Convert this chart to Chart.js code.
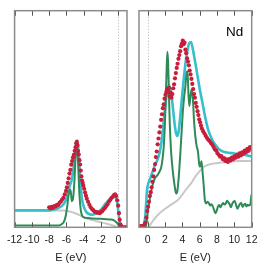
<!DOCTYPE html>
<html>
<head>
<meta charset="utf-8">
<script src="https://cdn.jsdelivr.net/npm/chart.js@4"></script>
<style>
  html, body { margin: 0; padding: 0; background: #fff; }
  #wrap { position: relative; width: 266px; height: 266px; }
  canvas { position: absolute; top: 0; }
  #chart-left { left: 0; }
  #chart-right { left: 133px; }
</style>
</head>
<body>
<div id="wrap">
  <canvas id="chart-left" width="133" height="266"></canvas>
  <canvas id="chart-right" width="133" height="266"></canvas>
</div>
<script>
// tick labels
const leftTicks = [-12, -10, -8, -6, -4, -2, 0];
const rightTicks = [0, 2, 4, 6, 8, 10, 12];

// left panel (occupied), [E, intensity]
const leftCyan = [[-12,7.8],[-8,7.8],[-7.5,8.2],[-7,8.8],[-6.5,10],[-6.2,11.5],[-6,13.2],[-5.8,16.5],[-5.6,19.5],[-5.45,21],[-5.3,24],[-5.15,29],[-5.0,34.5],[-4.85,39],[-4.75,40],[-4.65,37],[-4.5,28],[-4.35,19],[-4.2,13],[-4.0,9.5],[-3.7,7],[-3.3,6],[-3.0,5.8],[-2.5,6.5],[-2.0,8.2],[-1.5,10.8],[-1.0,13],[-0.6,14.2],[-0.3,13.6],[-0.1,10.5],[0.1,4],[0.3,1],[0.5,0],[1,0]];
const leftGreen = [[-12,0.8],[-7,0.8],[-6.6,1.3],[-6.3,2.5],[-6.1,5],[-5.9,10],[-5.75,15],[-5.6,17.5],[-5.5,16.5],[-5.38,12],[-5.25,13],[-5.1,20],[-4.95,32],[-4.85,38],[-4.75,37],[-4.62,26],[-4.5,15],[-4.35,8],[-4.2,5.5],[-4.0,4.6],[-3.5,4.3],[-3,4.1],[-2,3.9],[-1,3.6],[-0.5,3.2],[-0.2,2.2],[0,1.2],[0.2,0.3],[0.5,0],[1,0]];
const leftGray = [[-12,7.8],[-6.5,7.8],[-6,7.6],[-5.5,7.2],[-5,6.5],[-4.5,5.6],[-4,4.6],[-3.5,3.9],[-3,3.3],[-2.5,2.8],[-2,2.3],[-1.5,1.8],[-1,1.3],[-0.5,0.7],[0,0.15],[0.3,0],[1,0]];
const leftExp = [[-8.0,9.2],[-7.85,8.7],[-7.7,9.4],[-7.55,9.0],[-7.4,9.8],[-7.25,9.6],[-7.1,10.4],[-6.95,10.3],[-6.8,11.3],[-6.65,11.9],[-6.5,12.8],[-6.35,13.6],[-6.2,15.2],[-6.05,16.8],[-5.95,18.5],[-5.85,20.5],[-5.75,22.6],[-5.65,24.8],[-5.55,26.5],[-5.45,28.9],[-5.35,30.6],[-5.25,32.2],[-5.15,33.4],[-5.05,35.3],[-4.95,37],[-4.87,38.8],[-4.8,39.4],[-4.73,37.8],[-4.66,35.2],[-4.58,33.6],[-4.5,31],[-4.42,29],[-4.35,26.2],[-4.27,23.5],[-4.2,21.6],[-4.12,20.4],[-4.05,19.2],[-3.95,17.8],[-3.85,16.1],[-3.75,14.6],[-3.65,13.2],[-3.5,11.8],[-3.35,10.4],[-3.2,9.2],[-3.05,8.4],[-2.9,7.9],[-2.75,7.2],[-2.6,7.1],[-2.45,6.7],[-2.3,6.9],[-2.15,6.5],[-2.0,7.1],[-1.85,7.5],[-1.7,8.3],[-1.55,8.9],[-1.4,9.8],[-1.25,10.6],[-1.1,11.8],[-0.95,12.6],[-0.8,13.5],[-0.65,14.1],[-0.5,14.9],[-0.38,15.2],[-0.25,14.4],[-0.12,12.5],[-0.02,10],[0.07,6.5],[0.15,3.5],[0.25,1.3],[0.35,0.4],[0.5,0],[0.65,0],[0.8,0],[0.95,0]];

// right panel (unoccupied)
const rightCyan = [[-1,0],[-0.6,0.3],[-0.4,1.5],[-0.28,5],[-0.18,11],[-0.08,17],[0.1,20.5],[0.3,22.6],[0.7,27.2],[1.0,30],[1.3,33.2],[1.5,37],[1.7,43],[1.9,51],[2.1,58.5],[2.3,64],[2.5,65.4],[2.7,62.2],[2.9,55.5],[3.1,48],[3.3,43],[3.45,42.2],[3.6,45],[3.8,53],[4.0,62],[4.2,70],[4.4,77],[4.6,82],[4.8,85],[5.0,85.5],[5.2,82.5],[5.4,78],[5.6,73.5],[5.8,68.7],[6.0,64],[6.2,59.9],[6.6,51.6],[7.0,44.7],[7.5,40],[8.0,37],[8.5,35.3],[9,34.6],[10,34.1],[11,33.6],[12,32.7]];
const rightGreen = [[-1,0],[-0.3,0],[-0.12,2],[0,6.9],[0.2,12],[0.4,16.5],[0.6,20],[0.8,22.3],[1.0,23.5],[1.2,24.5],[1.4,26],[1.55,27.5],[1.7,31],[1.85,37],[1.97,46],[2.08,58],[2.18,72],[2.27,81],[2.36,76],[2.45,62],[2.55,48],[2.67,37],[2.8,30],[2.95,24],[3.1,19.5],[3.25,16],[3.35,15.6],[3.45,17.5],[3.6,24],[3.75,33],[3.9,43],[4.05,53],[4.2,60],[4.35,65],[4.5,71.5],[4.6,72],[4.7,62],[4.8,56],[4.92,60],[5.05,63.5],[5.15,62],[5.25,57],[5.35,49],[5.5,42],[5.65,37.5],[5.8,35],[5.95,29],[6.05,28],[6.2,30.5],[6.3,27],[6.45,20],[6.6,12.5],[6.75,11],[6.9,11.8],[7.05,11.2],[7.2,10.1],[7.35,10.6],[7.5,9.8],[7.65,8.2],[7.8,6.5],[7.95,7.5],[8.1,9.5],[8.25,10.3],[8.4,9.2],[8.55,10.4],[8.7,11.2],[8.85,10.5],[9.0,10.9],[9.15,12.2],[9.3,11.5],[9.45,10.6],[9.6,9.3],[9.75,10.8],[9.9,11.8],[10.05,12.1],[10.2,10.3],[10.35,8.6],[10.5,9.7],[10.65,10.8],[10.8,11.2],[10.95,9.4],[11.1,10.3],[11.25,10.9],[11.4,9.6],[11.55,10.4],[11.7,10.1],[11.85,10.6],[11.95,14.5],[12,15]];
const rightGray = [[-1,0],[0,0],[0.1,0.2],[0.6,3],[1.2,5.8],[1.6,7.3],[2.1,8.8],[2.7,10.5],[3.3,12],[3.7,13.6],[4.1,15.7],[4.5,17.8],[5.0,20.3],[5.4,22.8],[5.8,25],[6.2,26.8],[6.6,28.2],[7.3,29.2],[7.9,29.6],[9,30.2],[9.8,30.5],[11,30.6],[12,30.7]];
const rightExp = [[-1,0.4],[-0.85,0.5],[-0.7,0.4],[-0.55,0.6],[-0.4,1.0],[-0.28,2.2],[-0.15,4.5],[-0.05,7.5],[0.05,9.5],[0.15,11.8],[0.25,14.4],[0.35,16.2],[0.45,18.5],[0.55,21],[0.65,23.5],[0.75,26.5],[0.85,29.2],[0.95,32.4],[1.05,35],[1.15,38.3],[1.25,41],[1.35,43.8],[1.45,46.5],[1.55,49.6],[1.65,52.2],[1.75,55],[1.85,56.8],[1.95,59.4],[2.05,61.2],[2.15,62.5],[2.25,63.8],[2.35,62.6],[2.45,64.3],[2.55,60.5],[2.65,62.2],[2.75,59.8],[2.85,61.5],[2.95,64.2],[3.05,66],[3.15,68.8],[3.25,71.2],[3.35,73.6],[3.45,75.5],[3.55,77.8],[3.65,79.5],[3.75,81.3],[3.85,83.6],[3.95,84.8],[4.05,86.2],[4.15,84.5],[4.25,85.3],[4.35,82],[4.45,80.4],[4.55,78],[4.65,76.5],[4.75,74.8],[4.85,72.4],[4.95,70.6],[5.05,68.5],[5.15,66.2],[5.25,63.8],[5.35,61.5],[5.45,59.8],[5.55,57.4],[5.65,55.6],[5.75,53.6],[5.85,51.8],[5.95,49.8],[6.05,48.5],[6.15,46.9],[6.25,45.6],[6.4,44.4],[6.55,43.3],[6.7,42.2],[6.85,41.2],[7.0,40.4],[7.15,39.8],[7.3,38.9],[7.45,38.2],[7.6,37.1],[7.75,36],[7.9,35.4],[8.05,34.2],[8.2,33.5],[8.35,32.6],[8.5,32.9],[8.65,31.5],[8.8,31.9],[8.95,30.6],[9.1,31.4],[9.25,30.2],[9.4,31.5],[9.55,30.8],[9.7,32.2],[9.85,31.4],[10.0,32.8],[10.15,32.1],[10.3,33.4],[10.45,32.6],[10.6,34.1],[10.75,33.2],[10.9,34.6],[11.05,34],[11.2,35.4],[11.35,34.7],[11.5,36.2],[11.65,35.3],[11.8,37],[11.95,36.4]];

const COLORS = { exp: '#c81e3a', green: '#2e8b57', cyan: '#36bfcd', gray: '#c8c8c8', frame: '#8c8c8c', tick: '#555', text: '#222' };
const FONT = 'Liberation Sans';

// frame, inside ticks, dotted E=0 line, element label
const framePlugin = {
  id: 'frame',
  beforeDatasetsDraw(chart) {
    const { ctx, chartArea: a, scales: { x } } = chart;
    const x0 = Math.round(x.getPixelForValue(0)) + 0.5;
    ctx.save();
    ctx.strokeStyle = '#b0b0b0';
    ctx.lineWidth = 1;
    ctx.setLineDash([1, 2]);
    ctx.beginPath(); ctx.moveTo(x0, a.top); ctx.lineTo(x0, a.bottom); ctx.stroke();
    ctx.restore();
  },
  afterDraw(chart, args, opts) {
    const { ctx, chartArea: a, scales: { x } } = chart;
    ctx.save();
    ctx.strokeStyle = COLORS.tick;
    ctx.lineWidth = 1;
    x.ticks.forEach(t => {
      const px = Math.round(x.getPixelForValue(t.value)) + 0.5;
      ctx.beginPath();
      ctx.moveTo(px, a.top); ctx.lineTo(px, a.top + 5);
      ctx.moveTo(px, a.bottom); ctx.lineTo(px, a.bottom - 5);
      ctx.stroke();
    });
    ctx.strokeStyle = COLORS.frame;
    ctx.lineWidth = 1.5;
    ctx.strokeRect(a.left, a.top, a.right - a.left, a.bottom - a.top);
    if (opts.label) {
      ctx.fillStyle = '#000';
      ctx.font = `13.5px "${FONT}"`;
      ctx.textAlign = 'right';
      ctx.textBaseline = 'alphabetic';
      ctx.fillText(opts.label, a.right - 8.5, a.top + 25.5);
    }
    ctx.restore();
  }
};

const toXY = pts => pts.map(([x, y]) => ({ x, y }));
const lineSet = (pts, color, width) => ({
  data: toXY(pts), borderColor: color, borderWidth: width,
  pointRadius: 0, fill: false, cubicInterpolationMode: 'monotone'
});
const dotSet = pts => ({
  data: toXY(pts), showLine: false, pointRadius: 2.1,
  pointBackgroundColor: COLORS.exp, pointBorderWidth: 0
});

function makePanel(id, xMin, xMax, ticks, sets, pad, label) {
  return new Chart(document.getElementById(id), {
    type: 'line',
    data: {
      // first dataset is drawn on top
      datasets: [dotSet(sets.exp), lineSet(sets.green, COLORS.green, 2), lineSet(sets.cyan, COLORS.cyan, 2.6), lineSet(sets.gray, COLORS.gray, 2)]
    },
    options: {
      responsive: false,
      animation: false,
      layout: { padding: { left: pad.left, right: pad.right, top: 10.7, bottom: 0 } },
      plugins: { legend: { display: false }, tooltip: { enabled: false }, frame: { label } },
      scales: {
        x: {
          type: 'linear', min: xMin, max: xMax,
          afterBuildTicks: s => { s.ticks = ticks.map(v => ({ value: v })); },
          afterFit: s => { s.height = 38.7; },
          grid: { display: false, drawTicks: false },
          border: { display: false },
          ticks: { padding: 7, color: COLORS.text, autoSkip: false, maxRotation: 0, font: { family: FONT, size: 10.5 }, callback: v => String(v) },
          title: { display: true, text: 'E (eV)', color: COLORS.text, font: { family: FONT, size: 11 }, padding: { top: 0, bottom: 1 } }
        },
        y: { display: false, min: 0, max: 100 }
      }
    },
    plugins: [framePlugin]
  });
}

makePanel('chart-left', -12, 1, leftTicks,
  { exp: leftExp, green: leftGreen, cyan: leftCyan, gray: leftGray },
  { left: 13.3, right: 6 }, null);
makePanel('chart-right', -1, 12, rightTicks,
  { exp: rightExp, green: rightGreen, cyan: rightCyan, gray: rightGray },
  { left: 6, right: 14.3 }, 'Nd');
</script>
</body>
</html>
